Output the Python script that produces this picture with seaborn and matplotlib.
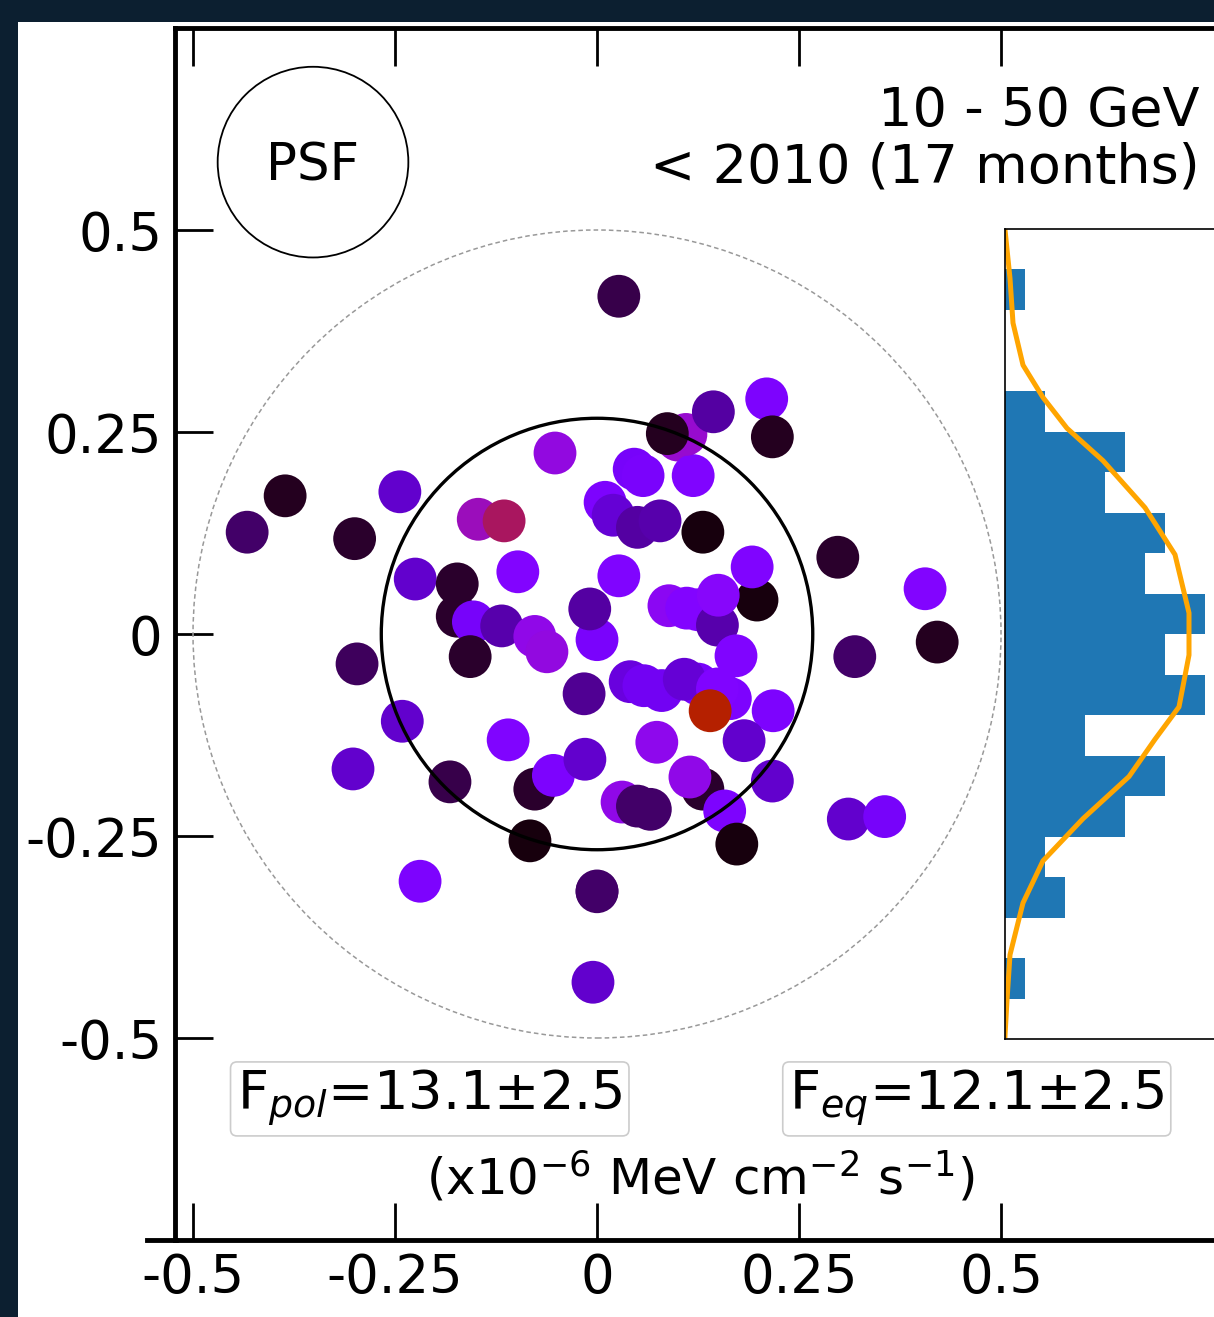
import matplotlib
matplotlib.use('Agg')  # no display
import matplotlib.pyplot as plt
from matplotlib.patches import Circle, Rectangle
from matplotlib.lines import Line2D
import numpy as np
import seaborn as sns

# photon positions (deg) and colour value (gnuplot scale), in drawing order
evt_x = [0.100, 0.125, 0.125, 0.080, 0.165, 0.000,
         0.027, -0.386, -0.433, -0.300, -0.244, -0.052, -0.147, -0.115, -0.225, -0.173,
         -0.173, -0.153, -0.118, -0.157, -0.098, -0.077, -0.062, 0.000, -0.009, 0.027,
         -0.016, 0.046, 0.057, 0.119, 0.010, 0.020, 0.050, 0.078, 0.131, 0.110,
         0.087, 0.144, 0.210, 0.217, 0.198, 0.192, 0.089, 0.111, 0.149, 0.150,
         0.172, 0.041, 0.058, 0.108, 0.149, 0.140, 0.218, 0.182, 0.074, -0.110,
         -0.241, -0.302, -0.297, -0.182, -0.077, -0.054, -0.015, 0.031, 0.050, 0.066,
         0.131, 0.115, 0.158, 0.217, 0.173, -0.083, -0.219, 0.000, 0.298, 0.319,
         0.311, 0.406, 0.421, 0.356, -0.005]
evt_y = [0.240, 0.030, -0.062, -0.070, -0.080, -0.318,
         0.418, 0.171, 0.126, 0.118, 0.176, 0.224, 0.142, 0.140, 0.068, 0.062,
         0.022, 0.015, 0.010, -0.028, 0.077, -0.003, -0.022, -0.007, 0.031, 0.072,
         -0.074, 0.204, 0.196, 0.196, 0.163, 0.147, 0.132, 0.140, 0.126, 0.247,
         0.248, 0.275, 0.291, 0.244, 0.042, 0.083, 0.035, 0.032, 0.011, 0.048,
         -0.027, -0.059, -0.064, -0.056, -0.068, -0.095, -0.095, -0.132, -0.134, -0.131,
         -0.108, -0.167, -0.037, -0.183, -0.192, -0.175, -0.155, -0.208, -0.213, -0.217,
         -0.192, -0.177, -0.219, -0.182, -0.260, -0.256, -0.306, -0.319, 0.095, -0.028,
         -0.229, 0.056, -0.010, -0.226, -0.431]
evt_c = [0.35, 0.26, 0.22, 0.20, 0.24, 0.07,
         0.05, 0.02, 0.07, 0.03, 0.15, 0.33, 0.37, 0.44, 0.15, 0.03,
         0.03, 0.22, 0.12, 0.03, 0.26, 0.32, 0.33, 0.23, 0.11, 0.25,
         0.10, 0.22, 0.23, 0.25, 0.24, 0.16, 0.11, 0.12, 0.01, 0.35,
         0.02, 0.11, 0.24, 0.02, 0.01, 0.25, 0.30, 0.26, 0.12, 0.28,
         0.25, 0.17, 0.20, 0.16, 0.25, 0.50, 0.24, 0.15, 0.31, 0.25,
         0.15, 0.15, 0.06, 0.05, 0.03, 0.24, 0.15, 0.32, 0.07, 0.07,
         0.03, 0.32, 0.24, 0.15, 0.01, 0.01, 0.24, 0.07, 0.03, 0.07,
         0.15, 0.26, 0.02, 0.22, 0.15]

# orange profile in the side panel (counts vs y)
prof_y = [0.499, 0.439, 0.384, 0.332, 0.292, 0.254, 0.214, 0.156, 0.098, 0.026,
          -0.026, -0.090, -0.130, -0.176, -0.228, -0.280, -0.332, -0.396, -0.452, -0.496]
prof_n = [0.0, 0.25, 0.4, 0.9, 1.9, 3.1, 4.9, 7.0, 8.5, 9.2,
          9.2, 8.7, 7.5, 6.2, 3.9, 1.9, 0.9, 0.25, 0.1, 0.0]

ticks = [-0.5, -0.25, 0, 0.25, 0.5]
tick_labels = ['-0.5', '-0.25', '0', '0.25', '0.5']

W, H = 1214, 1317
fig = plt.figure(figsize=(W / 100, H / 100), dpi=100, facecolor='#0c1f30')
fig.add_artist(Rectangle((18 / W, 0), 1, (H - 22) / H, transform=fig.transFigure,
                         facecolor='white', edgecolor='none', zorder=-10))

ax = fig.add_axes([175 / W, 77 / H, 1212 / W, 1212 / H])
sns.scatterplot(x=evt_x, y=evt_y, hue=evt_c, palette='gnuplot', hue_norm=(0, 1),
                s=950, linewidth=0, legend=False, ax=ax, zorder=3)

ax.add_patch(Circle((0, 0), 0.5, fill=False, ls=(0, (3, 2)), lw=1.1, ec='#999999', zorder=2))
ax.add_patch(Circle((0, 0), 0.267, fill=False, lw=2.4, ec='black', zorder=4))
ax.add_patch(Circle((-0.3515, 0.584), 0.118, fill=False, lw=1.3, ec='black', zorder=4))
ax.text(-0.3515, 0.561, 'PSF', ha='center', va='baseline', fontsize=37)

ax.text(0.746, 0.629, '10 - 50 GeV', ha='right', va='baseline', fontsize=39)
ax.text(0.746, 0.559, '< 2010 (17 months)', ha='right', va='baseline', fontsize=39)

box = dict(boxstyle='round,pad=0.12', fc='white', ec='#cccccc', lw=1.2)
ax.text(-0.207, -0.590, r'F$_{pol}$=13.1$\pm$2.5', ha='center', va='baseline',
        fontsize=39, bbox=box)
ax.text(0.470, -0.590, r'F$_{eq}$=12.1$\pm$2.5', ha='center', va='baseline',
        fontsize=39, bbox=box)
ax.text(0.127, -0.693, r'(x10$^{-6}$ MeV cm$^{-2}$ s$^{-1}$)', ha='center', va='baseline',
        fontsize=36)

ax.set_xlim(-0.5223, 0.9777)
ax.set_ylim(-0.75, 0.75)
ax.set_xticks(ticks)
ax.set_xticklabels(tick_labels)
ax.set_yticks(ticks)
ax.set_yticklabels(tick_labels)
ax.set_xlabel('')
ax.set_ylabel('')
ax.tick_params(direction='in', top=True, bottom=True, left=True, right=False,
               length=27, width=2, labelsize=38, pad=9)
for sp in ax.spines.values():
    sp.set_linewidth(3.5)

fig.add_artist(Line2D([147 / W, 176 / W], [(H - 1240) / H] * 2, color='black', lw=3.5))

# side panel: y distribution of the photons
ax_h = fig.add_axes([1005 / W, (H - 1039) / H, 300 / W, 810 / H], zorder=5)
sns.histplot(y=evt_y, bins=np.linspace(-0.5, 0.5, 21), color='#1f77b4', alpha=1,
             edgecolor='none', linewidth=0, ax=ax_h)
sns.lineplot(x=prof_n, y=prof_y, sort=False, estimator=None, color='orange', lw=3.6, ax=ax_h)
ax_h.set_ylim(-0.5, 0.5)
ax_h.set_xlim(0, 15)
ax_h.set_xticks([])
ax_h.set_yticks([])
ax_h.set_xlabel('')
ax_h.set_ylabel('')
for sp in ax_h.spines.values():
    sp.set_linewidth(1.2)

fig.savefig('out.png', dpi=100, facecolor=fig.get_facecolor())
